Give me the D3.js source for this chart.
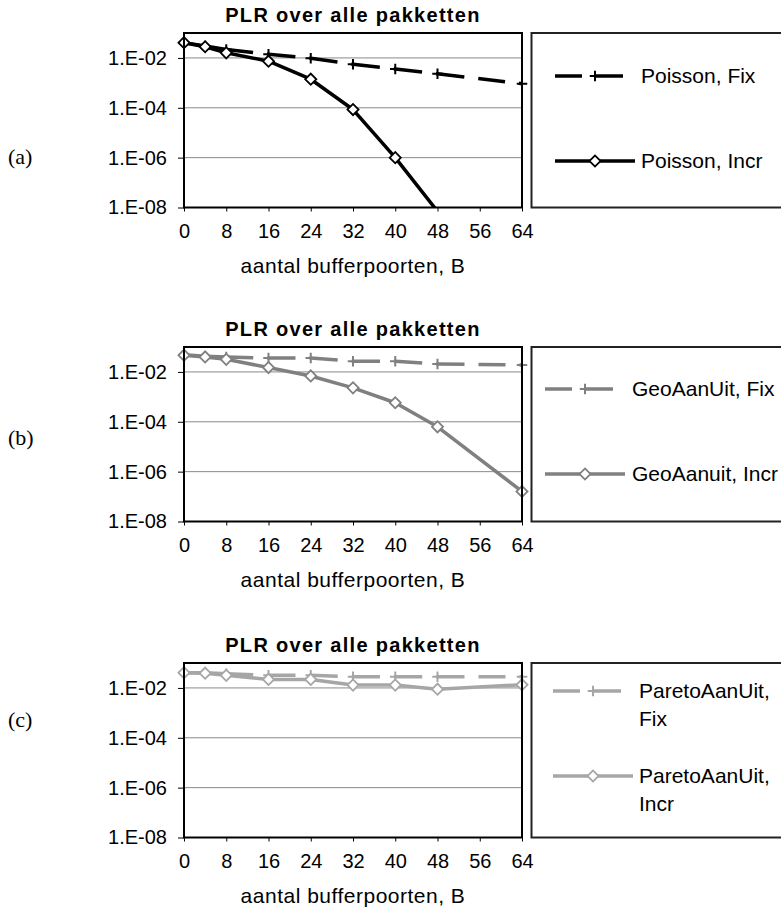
<!DOCTYPE html>
<html>
<head>
<meta charset="utf-8">
<script src="https://cdn.jsdelivr.net/npm/d3@7"></script>
<style>
  body { margin: 0; background: #fff; }
  svg text { font-family: "Liberation Sans", Arial, sans-serif; fill: #000; }
</style>
</head>
<body>
<div class="chart"></div>
<script>
// x values (aantal bufferpoorten) and axis ticks
var bufferPorts = [0, 4, 8, 16, 24, 32, 40, 48, 64];
var xTickValues = [0, 8, 16, 24, 32, 40, 48, 56, 64];
var yTickValues = [1e-2, 1e-4, 1e-6, 1e-8];
var yTickLabels = ["1.E-02", "1.E-04", "1.E-06", "1.E-08"];

// PLR values
var poissonFix = [4.1e-2, 3.0e-2, 2.2e-2, 1.4e-2, 9.8e-3, 5.6e-3, 3.6e-3, 2.3e-3, 9.3e-4];
var poissonIncr = [4.1e-2, 2.8e-2, 1.6e-2, 7.4e-3, 1.4e-3, 8.5e-5, 1.0e-6, 7.0e-9, null];
var geoFix = [4.9e-2, 4.3e-2, 4.0e-2, 3.6e-2, 3.6e-2, 2.7e-2, 2.7e-2, 2.1e-2, 1.9e-2];
var geoIncr = [4.7e-2, 4.0e-2, 3.2e-2, 1.5e-2, 6.9e-3, 2.3e-3, 5.8e-4, 6.3e-5, 1.6e-7];
var paretoFix = [4.1e-2, 4.1e-2, 3.7e-2, 3.2e-2, 3.2e-2, 2.8e-2, 2.8e-2, 2.8e-2, 2.8e-2];
var paretoIncr = [4.1e-2, 3.9e-2, 3.2e-2, 2.2e-2, 2.2e-2, 1.3e-2, 1.3e-2, 8.9e-3, 1.35e-2];

var panelTitle = "PLR over alle pakketten";
var xAxisTitle = "aantal bufferpoorten, B";
var panelLabels = ["(a)", "(b)", "(c)"];
var fixLabels = [["Poisson, Fix"], ["GeoAanUit, Fix"], ["ParetoAanUit,", "Fix"]];
var incrLabels = [["Poisson, Incr"], ["GeoAanuit, Incr"], ["ParetoAanUit,", "Incr"]];

// layout
var svgWidth = 781, svgHeight = 910;
var plotLeft = 184, plotWidth = 338, plotHeight = 174.5;

var panels = [
  { top: 33, labelY: 164, color: "#000000", fix: poissonFix, incr: poissonIncr,
    sampleX: 555, markerX: 595, textX: 641, rowY: [43, 128] },
  { top: 347, labelY: 445, color: "#808080", fix: geoFix, incr: geoIncr,
    sampleX: 545, markerX: 585, textX: 632, rowY: [42, 127] },
  { top: 663, labelY: 727, color: "#a6a6a6", fix: paretoFix, incr: paretoIncr,
    sampleX: 553, markerX: 593, textX: 639, rowY: [28, 113] }
];

var svg = d3.select(".chart")
  .append("svg")
  .attr("width", svgWidth)
  .attr("height", svgHeight);

var xScale = d3.scaleLinear().domain([0, 64]).range([0, plotWidth]);
var yScale = d3.scaleLog().domain([1e-8, 1e-1]).range([plotHeight, 0]);

// plus marker for the "Fix" series
var plusSymbol = {
  draw: function(context, size) {
    var r = Math.sqrt(size) / 2;
    context.moveTo(-r, 0); context.lineTo(r, 0);
    context.moveTo(0, -r); context.lineTo(0, r);
  }
};
var plus = d3.symbol().type(plusSymbol).size(110);
var diamond = d3.symbol().type(d3.symbolSquare).size(62);

var dashPattern = "27,14";

panels.forEach(function(p, i) {
  var g = svg.append("g").attr("transform", `translate(${plotLeft}, ${p.top})`);

  // panel label (a), (b), (c)
  svg.append("text")
    .attr("x", 8)
    .attr("y", p.labelY)
    .style("font-family", "'Liberation Serif', 'Times New Roman', serif")
    .style("font-size", "22px")
    .text(panelLabels[i]);

  // title
  g.append("text")
    .attr("x", plotWidth / 2)
    .attr("y", -11)
    .attr("text-anchor", "middle")
    .style("font-size", "20px")
    .style("font-weight", "bold")
    .style("letter-spacing", "1.3px")
    .text(panelTitle);

  // gridlines
  g.selectAll(".grid")
    .data(yTickValues.slice(0, 3))
    .enter()
    .append("line")
    .attr("x1", 0)
    .attr("x2", plotWidth)
    .attr("y1", d => yScale(d))
    .attr("y2", d => yScale(d))
    .attr("stroke", "#8a8a8a")
    .attr("stroke-width", 1);

  // clip
  g.append("clipPath")
    .attr("id", "clip" + i)
    .append("rect")
    .attr("width", plotWidth)
    .attr("height", plotHeight);

  var rows = bufferPorts.map((b, k) => ({ b: b, fix: p.fix[k], incr: p.incr[k] }));

  var line = function(key) {
    return d3.line()
      .defined(d => d[key] != null)
      .x(d => xScale(d.b))
      .y(d => yScale(d[key]));
  };

  var lines = g.append("g").attr("clip-path", `url(#clip${i})`);

  // dashed Fix line, pattern restarts at every point
  d3.pairs(rows).forEach(function(pair) {
    lines.append("path")
      .datum(pair)
      .attr("d", line("fix"))
      .attr("fill", "none")
      .attr("stroke", p.color)
      .attr("stroke-width", 3.5)
      .attr("stroke-dasharray", dashPattern);
  });

  lines.append("path")
    .datum(rows)
    .attr("d", line("incr"))
    .attr("fill", "none")
    .attr("stroke", p.color)
    .attr("stroke-width", 3.5)
    .attr("stroke-linejoin", "round");

  // markers (only those inside the axis range)
  g.selectAll(".fixMark")
    .data(rows.filter(d => d.fix != null && d.fix >= 1e-8))
    .enter()
    .append("path")
    .attr("d", plus)
    .attr("transform", d => `translate(${xScale(d.b)}, ${yScale(d.fix)})`)
    .attr("fill", "none")
    .attr("stroke", p.color)
    .attr("stroke-width", 2);

  g.selectAll(".incrMark")
    .data(rows.filter(d => d.incr != null && d.incr >= 1e-8))
    .enter()
    .append("path")
    .attr("d", diamond)
    .attr("transform", d => `translate(${xScale(d.b)}, ${yScale(d.incr)}) rotate(45)`)
    .attr("fill", "#fff")
    .attr("stroke", p.color)
    .attr("stroke-width", 1.8);

  // frame
  g.append("rect")
    .attr("width", plotWidth)
    .attr("height", plotHeight)
    .attr("fill", "none")
    .attr("stroke", "#000")
    .attr("stroke-width", 2);

  // axes
  var xAxis = d3.axisBottom(xScale)
    .tickValues(xTickValues)
    .tickFormat(d3.format("d"))
    .tickSize(4)
    .tickPadding(12);

  var yAxis = d3.axisLeft(yScale)
    .tickValues(yTickValues)
    .tickFormat((d, k) => yTickLabels[k])
    .tickSize(6)
    .tickPadding(11);

  var xg = g.append("g")
    .attr("transform", `translate(0, ${plotHeight})`)
    .call(xAxis);
  var yg = g.append("g").call(yAxis);

  [xg, yg].forEach(function(a) {
    a.select(".domain").remove();
    a.selectAll("text").style("font-size", "20px").style("font-family", "'Liberation Sans', Arial, sans-serif");
    a.selectAll("line").attr("stroke", "#000");
  });

  // x axis title
  g.append("text")
    .attr("x", plotWidth / 2)
    .attr("y", plotHeight + 65)
    .attr("text-anchor", "middle")
    .style("font-size", "21px")
    .style("letter-spacing", "0.5px")
    .text(xAxisTitle);

  // legend box (runs off the right edge)
  svg.append("rect")
    .attr("x", 531.5)
    .attr("y", p.top)
    .attr("width", 300)
    .attr("height", plotHeight)
    .attr("fill", "#fff")
    .attr("stroke", "#222")
    .attr("stroke-width", 2);

  var legendItems = [
    { labels: fixLabels[i], dashed: true, y: p.top + p.rowY[0] },
    { labels: incrLabels[i], dashed: false, y: p.top + p.rowY[1] }
  ];

  legendItems.forEach(function(item) {
    svg.append("line")
      .attr("x1", p.sampleX)
      .attr("x2", p.sampleX + 80)
      .attr("y1", item.y)
      .attr("y2", item.y)
      .attr("stroke", p.color)
      .attr("stroke-width", 3.5)
      .attr("stroke-dasharray", item.dashed ? dashPattern : null);

    svg.append("path")
      .attr("d", item.dashed ? plus : diamond)
      .attr("transform", `translate(${p.markerX}, ${item.y})` + (item.dashed ? "" : " rotate(45)"))
      .attr("fill", item.dashed ? "none" : "#fff")
      .attr("stroke", p.color)
      .attr("stroke-width", item.dashed ? 2 : 1.8);

    var t = svg.append("text")
      .attr("x", p.textX)
      .attr("y", item.y + 7)
      .style("font-size", "21px");
    item.labels.forEach(function(s, k) {
      t.append("tspan")
        .attr("x", p.textX)
        .attr("dy", k === 0 ? 0 : 28)
        .text(s);
    });
  });
});
</script>
</body>
</html>
